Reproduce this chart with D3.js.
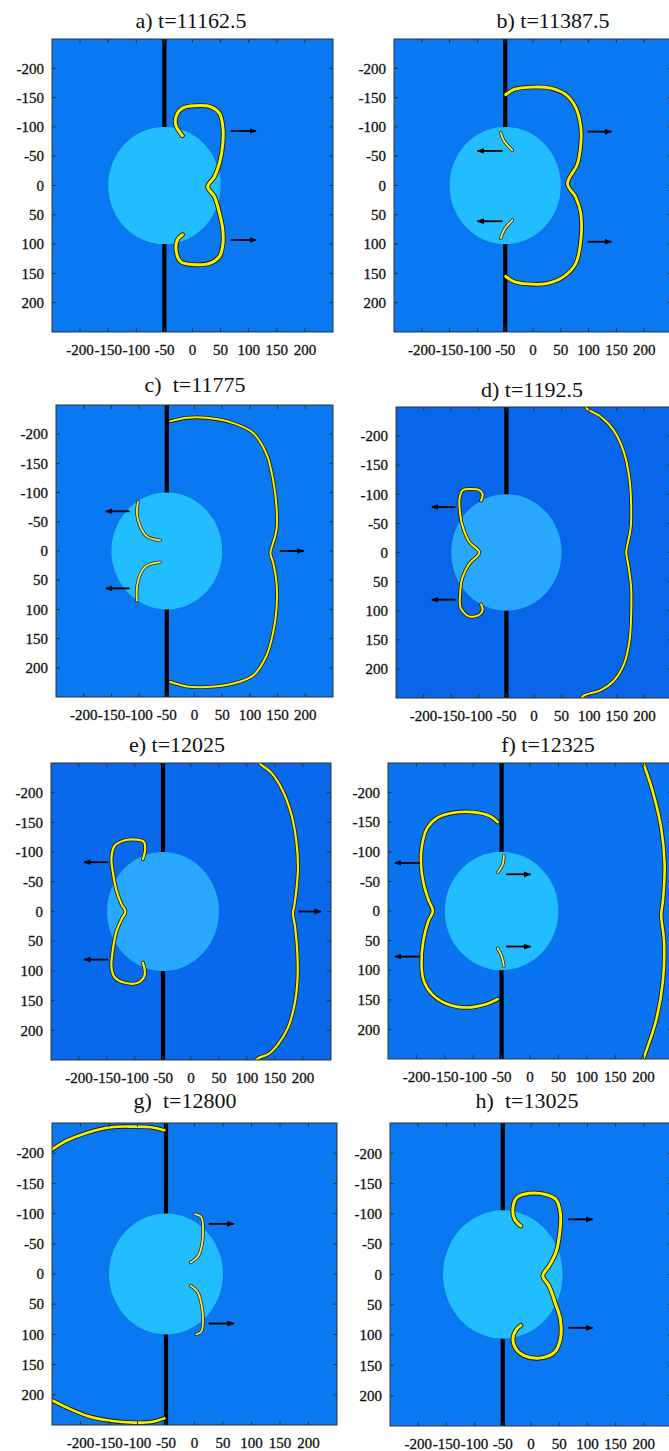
<!DOCTYPE html>
<html><head><meta charset="utf-8">
<script src="https://cdn.jsdelivr.net/npm/d3@7"></script>
<style>body{margin:0;background:#fff;} svg{display:block;}</style>
</head><body>
<script>
// ---------- data ----------
const panelTitles = ["a) t=11162.5", "b) t=11387.5", "c)  t=11775", "d) t=1192.5",
                     "e) t=12025", "f) t=12325", "g)  t=12800", "h)  t=13025"];
const xTicks = [-200, -150, -100, -50, 0, 50, 100, 150, 200];
const yTicks = [-200, -150, -100, -50, 0, 50, 100, 150, 200];
const axisDomain = [-250, 250];
const wallX = -50;
const obstacleCenter = [-50, 0];
const obstacleRadius = [100, 100, 100, 100, 100, 100, 100, 106];

// wave fronts (x, y) in model units
const wavesA = [[[-18,-85],[-30,-104],[-28,-121],[-18,-132],[3,-136],[33,-134],[48,-123],[54,-100],[54,-72],[48,-38],[39,-15],[27,2],[39,19],[48,47],[54,76],[54,101],[48,121],[33,132],[0,135],[-21,130],[-29,112],[-27,93],[-18,84]]];
const fragsA = [];
const arrowsA = [[68,-93,113,-93],[68,93,113,93]];

const wavesB = [[[-49,-155],[-34,-164],[2,-168],[32,-166],[59,-155],[77,-133],[86,-99],[86,-71],[80,-37],[62,-3],[77,20],[86,48],[86,93],[77,133],[56,155],[26,167],[-10,168],[-34,164],[-49,155]]];
const fragsB = [[[-58,-90],[-52,-76],[-37,-60]], [[-37,59],[-52,76],[-58,90]]];
const arrowsB = [[98,-92,141,-92],[98,96,141,96],[-55,-59,-100,-59],[-55,61,-100,61]];

const wavesC = [[[-44,-222],[-14,-228],[22,-228],[70,-219],[106,-202],[130,-166],[142,-121],[148,-76],[148,-36],[142,-14],[137,4],[142,20],[148,54],[148,99],[142,139],[130,179],[106,213],[70,227],[22,233],[-14,232],[-44,224]]];
const fragsC = [[[-102,-84],[-104,-64],[-98,-42],[-86,-25],[-62,-18]], [[-62,19],[-86,25],[-98,40],[-104,63],[-104,85]]];
const arrowsC = [[-117,-68,-160,-68],[-117,64,-160,64],[154,0,197,0]];

const wavesD = [[[92,-254],[96,-247],[120,-234],[145,-209],[163,-172],[173,-126],[176,-81],[175,-41],[169,-12],[167,0],[171,22],[176,61],[176,107],[173,152],[163,192],[145,220],[120,237],[90,246],[84,254]],
                [[-96,-89],[-93,-100],[-99,-107],[-114,-109],[-129,-107],[-135,-92],[-134,-69],[-130,-47],[-117,-18],[-99,0],[-117,19],[-130,44],[-134,73],[-133,95],[-117,110],[-99,107],[-93,98],[-96,89]]];
const fragsD = [];
const arrowsD = [[-142,-78,-185,-78],[-142,81,-185,81]];

const wavesE = [[[119,-256],[123,-249],[143,-234],[164,-203],[179,-164],[188,-119],[191,-74],[188,-35],[184,-7],[182,2],[186,27],[190,72],[190,117],[185,156],[173,196],[155,224],[138,240],[120,247],[112,254]],
                [[-86,-88],[-82,-103],[-84,-117],[-98,-121],[-118,-120],[-136,-111],[-142,-91],[-139,-63],[-133,-35],[-124,-12],[-117,0],[-124,13],[-133,33],[-139,61],[-142,94],[-136,111],[-118,120],[-95,120],[-83,108],[-83,97],[-86,86]]];
const fragsE = [];
const arrowsE = [[-148,-83,-191,-83],[-148,81,-191,81],[192,0,232,0]];

const wavesF = [[[-57,-150],[-70,-160],[-99,-167],[-135,-166],[-164,-157],[-181,-140],[-190,-112],[-192,-79],[-187,-45],[-178,-17],[-171,0],[-179,17],[-188,51],[-191,90],[-187,118],[-173,140],[-146,157],[-111,163],[-76,157],[-57,149]],
                [[196,-262],[199,-252],[216,-202],[231,-140],[237,-79],[234,-17],[231,6],[236,51],[234,118],[222,185],[199,252],[196,262]]];
const fragsF = [[[-46,-94],[-48,-79],[-57,-65]], [[-57,63],[-50,76],[-46,93]]];
const arrowsF = [[-194,-81,-238,-81],[-194,77,-238,77],[-42,-62,1,-62],[-42,60,1,60]];

const wavesG = [[[-262,-199],[-252,-205],[-224,-221],[-188,-234],[-147,-243],[-106,-244],[-76,-243],[-53,-238]],
                [[-262,203],[-252,208],[-224,221],[-188,235],[-147,243],[-106,246],[-76,245],[-53,239]]];
const fragsG = [[[1,-99],[12,-94],[15,-76],[13,-48],[6,-29],[-7,-19]], [[-7,19],[5,29],[12,49],[15,74],[12,95],[3,100]]];
const arrowsG = [[25,-83,69,-83],[25,82,69,82]];

const wavesH = [[[-18,-80],[-29,-91],[-32,-110],[-25,-127],[-3,-134],[26,-132],[44,-124],[52,-102],[51,-69],[44,-36],[32,-14],[21,2],[32,19],[43,47],[52,74],[52,107],[41,129],[15,138],[-12,134],[-28,121],[-32,105],[-26,91],[-18,84]]];
const fragsH = [];
const arrowsH = [[66,-91,109,-91],[66,88,109,88]];

// ---------- layout & style ----------
const layout = [
  {x0:52,  x1:333, y0:39,   y1:332,  tx:191, ty:28},
  {x0:394, x1:672, y0:39,   y1:332,  tx:553, ty:28},
  {x0:56,  x1:333, y0:405,  y1:697,  tx:195, ty:392},
  {x0:396, x1:672, y0:407,  y1:698,  tx:532, ty:397},
  {x0:51,  x1:331, y0:763,  y1:1060, tx:177, ty:752},
  {x0:388, x1:672, y0:763,  y1:1059, tx:548, ty:752},
  {x0:52,  x1:337, y0:1123, y1:1425, tx:185, ty:1108},
  {x0:390, x1:672, y0:1123, y1:1426, tx:527, ty:1108}
];
const bgColors = ["#0a78f0","#0a78f0","#0a78f0","#0766ea","#0869ec","#0a74f0","#0a78f0","#0a78f0"];
const obstacleColors = ["#22bdfe","#22bdfe","#22bdfe","#2aa7fe","#28a9ff","#22bdfe","#22bdfe","#22bdfe"];
const waveWidths = [[4.8,3.0],[4.6,2.8],[3.6,2.0],[3.6,2.0],[3.8,2.2],[4.4,2.6],[4.4,2.6],[4.8,3.0]];

const panels = [
  {waves:wavesA, frags:fragsA, arrows:arrowsA},
  {waves:wavesB, frags:fragsB, arrows:arrowsB},
  {waves:wavesC, frags:fragsC, arrows:arrowsC},
  {waves:wavesD, frags:fragsD, arrows:arrowsD},
  {waves:wavesE, frags:fragsE, arrows:arrowsE},
  {waves:wavesF, frags:fragsF, arrows:arrowsF},
  {waves:wavesG, frags:fragsG, arrows:arrowsG},
  {waves:wavesH, frags:fragsH, arrows:arrowsH}
];

const W = 669, H = 1451;
const svg = d3.select("body").append("svg").attr("width", W).attr("height", H)
  .style("font-family", "'Liberation Serif','Times New Roman',serif");

const defs = svg.append("defs");
defs.append("marker").attr("id","ah").attr("viewBox","0 0 10 10")
  .attr("refX",9).attr("refY",5).attr("markerWidth",4).attr("markerHeight",4)
  .attr("orient","auto").attr("markerUnits","strokeWidth")
  .append("path").attr("d","M0,1 L10,5 L0,9 Z").attr("fill","#000");

panels.forEach((p, i) => {
  const L = layout[i];
  const x = d3.scaleLinear().domain(axisDomain).range([L.x0, L.x1]);
  const y = d3.scaleLinear().domain(axisDomain).range([L.y0, L.y1]);
  const g = svg.append("g");

  defs.append("clipPath").attr("id","clip"+i).append("rect")
    .attr("x", L.x0).attr("y", L.y0).attr("width", L.x1 - L.x0).attr("height", L.y1 - L.y0);

  const inner = g.append("g").attr("clip-path", `url(#clip${i})`);
  inner.append("rect").attr("x", L.x0).attr("y", L.y0)
    .attr("width", L.x1 - L.x0).attr("height", L.y1 - L.y0).attr("fill", bgColors[i]);

  // wall
  inner.append("line").attr("x1", x(wallX)).attr("x2", x(wallX))
    .attr("y1", L.y0).attr("y2", L.y1).attr("stroke", "#000").attr("stroke-width", 4.2);

  // obstacle
  const r = obstacleRadius[i];
  inner.append("ellipse").attr("cx", x(obstacleCenter[0])).attr("cy", y(obstacleCenter[1]))
    .attr("rx", x(r) - x(0)).attr("ry", y(r) - y(0)).attr("fill", obstacleColors[i]);

  const line = d3.line().x(d => x(d[0])).y(d => y(d[1])).curve(d3.curveCatmullRom.alpha(0.5));
  const ww = waveWidths[i];

  p.waves.forEach(w => {
    inner.append("path").attr("d", line(w)).attr("fill","none")
      .attr("stroke","#1c1c10").attr("stroke-width",ww[0]).attr("stroke-linecap","round").attr("stroke-linejoin","round");
    inner.append("path").attr("d", line(w)).attr("fill","none")
      .attr("stroke","#f6f000").attr("stroke-width",ww[1]).attr("stroke-linecap","round").attr("stroke-linejoin","round");
  });
  p.frags.forEach(w => {
    inner.append("path").attr("d", line(w)).attr("fill","none")
      .attr("stroke","#2a2a20").attr("stroke-width",3.4).attr("stroke-linecap","round");
    inner.append("path").attr("d", line(w)).attr("fill","none")
      .attr("stroke","#f2e860").attr("stroke-width",1.8).attr("stroke-linecap","round");
  });
  p.arrows.forEach(a => {
    inner.append("line").attr("x1", x(a[0])).attr("y1", y(a[1]))
      .attr("x2", x(a[2])).attr("y2", y(a[3]))
      .attr("stroke","#000").attr("stroke-width",1.8).attr("marker-end","url(#ah)");
  });

  // inward ticks
  const tk = 4;
  xTicks.forEach(t => {
    g.append("line").attr("x1", x(t)).attr("x2", x(t)).attr("y1", L.y0).attr("y2", L.y0 + tk)
      .attr("stroke","#333").attr("stroke-width",1);
    g.append("line").attr("x1", x(t)).attr("x2", x(t)).attr("y1", L.y1).attr("y2", L.y1 - tk)
      .attr("stroke","#333").attr("stroke-width",1);
  });
  yTicks.forEach(t => {
    g.append("line").attr("y1", y(t)).attr("y2", y(t)).attr("x1", L.x0).attr("x2", L.x0 + tk)
      .attr("stroke","#333").attr("stroke-width",1);
    g.append("line").attr("y1", y(t)).attr("y2", y(t)).attr("x1", L.x1).attr("x2", L.x1 - tk)
      .attr("stroke","#333").attr("stroke-width",1);
  });

  // frame
  g.append("rect").attr("x", L.x0).attr("y", L.y0)
    .attr("width", L.x1 - L.x0).attr("height", L.y1 - L.y0)
    .attr("fill","none").attr("stroke","#333").attr("stroke-width",1);

  // tick labels
  g.selectAll(".xl").data(xTicks).enter().append("text")
    .attr("x", d => x(d)).attr("y", L.y1 + 23).attr("text-anchor","middle")
    .attr("font-size", 15).attr("fill","#111").attr("stroke","#111").attr("stroke-width",0.3)
    .text(d => d);
  g.selectAll(".yl").data(yTicks).enter().append("text")
    .attr("x", L.x0 - 8).attr("y", d => y(d)).attr("dy","0.35em").attr("text-anchor","end")
    .attr("font-size", 15).attr("fill","#111").attr("stroke","#111").attr("stroke-width",0.3)
    .text(d => d);

  // title
  g.append("text").attr("x", L.tx).attr("y", L.ty).attr("text-anchor","middle")
    .attr("font-size", 22).attr("fill","#111").style("white-space","pre").text(panelTitles[i]);
});
</script>
</body></html>
